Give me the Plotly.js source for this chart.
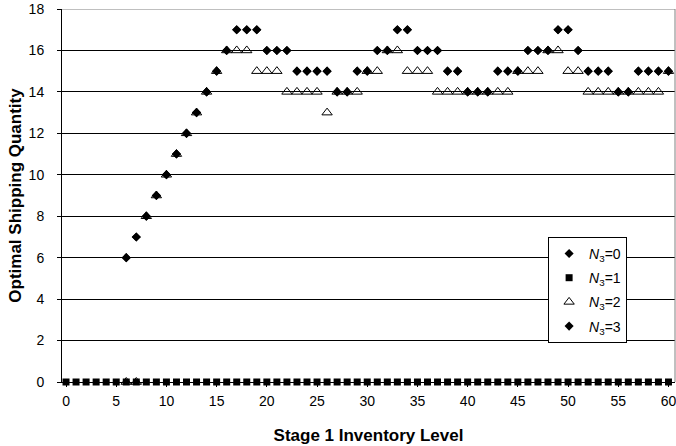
<!DOCTYPE html>
<html>
<head>
<meta charset="utf-8">
<script src="https://cdn.plot.ly/plotly-3.0.1.min.js"></script>
<style>html,body{margin:0;padding:0;background:#fff;}#chart{width:676px;height:446px;}</style>
</head>
<body>
<div id="chart"></div>
<script>
// Stage 1 inventory levels
var inventory = [0,1,2,3,4,5,6,7,8,9,10,11,12,13,14,15,16,17,18,19,20,21,22,23,24,25,26,27,28,29,30,31,32,33,34,35,36,37,38,39,40,41,42,43,44,45,46,47,48,49,50,51,52,53,54,55,56,57,58,59,60];
// Optimal shipping quantity per series (null = no marker visible)
var qN0 = [null,null,null,null,null,null,6,7,8,9,10,11,12,13,14,15,16,17,17,17,16,16,16,15,15,15,15,14,14,15,15,16,16,17,17,16,16,16,15,15,14,14,14,15,15,15,16,16,16,17,17,16,15,15,15,14,14,15,15,15,15];
var qN1 = [0,0,0,0,0,0,0,0,0,0,0,0,0,0,0,0,0,0,0,0,0,0,0,0,0,0,0,0,0,0,0,0,0,0,0,0,0,0,0,0,0,0,0,0,0,0,0,0,0,0,0,0,0,0,0,0,0,0,0,0,0];
var qN2 = [null,null,null,null,null,null,0,0,8,9,10,11,12,13,14,15,16,16,16,15,15,15,14,14,14,14,13,14,14,14,15,15,16,16,15,15,15,14,14,14,14,14,14,14,14,15,15,15,16,16,15,15,14,14,14,14,14,14,14,14,15];
var qN3 = [null,null,null,null,null,null,6,7,8,9,10,11,12,13,14,15,16,17,17,17,16,16,16,15,15,15,15,14,14,15,15,16,16,17,17,16,16,16,15,15,14,14,14,15,15,15,16,16,16,17,17,16,15,15,15,14,14,15,15,15,15];
var seriesNames = ['<i>N</i><sub>3</sub>=0','<i>N</i><sub>3</sub>=1','<i>N</i><sub>3</sub>=2','<i>N</i><sub>3</sub>=3'];
var xTicks = [0,5,10,15,20,25,30,35,40,45,50,55,60];
var yTicks = [0,2,4,6,8,10,12,14,16,18];

var FONT = 'Arial, "Liberation Sans", sans-serif';
function tr(y, name, sym, size, grp){
  return {x: inventory, y: y, name: name, type: 'scatter', mode: 'markers', cliponaxis: false,
    legendgroup: grp,
    marker: {symbol: sym, size: size, color: '#000', line: {color: '#000', width: sym.indexOf('open')>=0 ? 1 : 0}}};
}
var data = [
  tr(qN0, seriesNames[0], 'diamond', 7, 'a'),
  tr(qN1, seriesNames[1], 'square', 7, 'b'),
  tr(qN2, seriesNames[2], 'triangle-up-open', 9, 'c'),
  tr(qN3, seriesNames[3], 'diamond', 7, 'd')
];
var layout = {
  width: 676, height: 446,
  margin: {l: 62, r: 1, t: 9, b: 64},
  paper_bgcolor: '#fff', plot_bgcolor: '#fff',
  font: {family: FONT, color: '#000', size: 14},
  showlegend: true,
  legend: {x: 0.793, y: 0.389, xanchor: 'left', yanchor: 'top', bgcolor: '#fff',
    bordercolor: '#000', borderwidth: 1, font: {family: FONT, size: 14, color: '#000'},
    traceorder: 'grouped', tracegroupgap: 3, itemwidth: 30},
  xaxis: {range: [-0.4, 60.65], tickmode: 'array', tickvals: xTicks, ticktext: xTicks.map(String),
    showline: true, linecolor: '#000', linewidth: 1, ticks: 'outside', ticklen: 4, tickcolor: '#000',
    showgrid: false, zeroline: false, tickfont: {family: FONT, size: 14, color: '#000'},
    ticklabelstandoff: 2, ticklabeloverflow: 'allow',
    title: {text: 'Stage 1 Inventory Level', font: {family: FONT, size: 17, color: '#000', weight: 'bold'}, standoff: 21}},
  yaxis: {range: [0, 18], tickmode: 'array', tickvals: yTicks, ticktext: yTicks.map(String),
    showline: true, linecolor: '#000', linewidth: 1, ticks: 'outside', ticklen: 4, tickcolor: '#000',
    showgrid: true, gridcolor: '#000', gridwidth: 1, zeroline: false,
    tickfont: {family: FONT, size: 14, color: '#000'}, ticklabelstandoff: 10,
    title: {text: 'Optimal Shipping Quantity', font: {family: FONT, size: 17, color: '#000', weight: 'bold'}, standoff: 2}},
  shapes: [
    {type: 'line', xref: 'paper', yref: 'y', x0: 0, x1: 1, y0: 18, y1: 18, line: {color: '#808080', width: 1}},
    {type: 'line', xref: 'paper', yref: 'y', x0: 1, x1: 1, y0: 0, y1: 18, line: {color: '#808080', width: 1}}
  ]
};
Plotly.newPlot('chart', data, layout, {displayModeBar: false, staticPlot: true});
</script>
</body>
</html>
